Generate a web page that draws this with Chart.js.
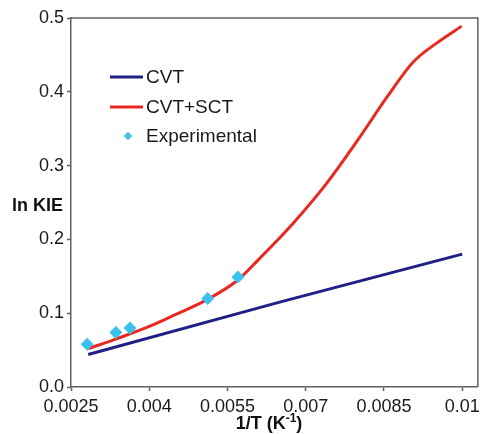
<!DOCTYPE html>
<html><head><meta charset="utf-8">
<script src="https://cdn.jsdelivr.net/npm/chart.js@4/dist/chart.umd.min.js"></script>
<style>html,body{margin:0;padding:0;background:#fff;}#wrap{width:485px;height:434px;}</style>
</head><body><div id="wrap"><canvas id="c" width="485" height="434"></canvas></div>
<script>
const xTickValues = [0.0025, 0.004, 0.0055, 0.007, 0.0085, 0.01];
const xTickLabels = ['0.0025', '0.004', '0.0055', '0.007', '0.0085', '0.01'];
const yTickValues = [0, 0.1, 0.2, 0.3, 0.4, 0.5];
const yTickLabels = ['0.0', '0.1', '0.2', '0.3', '0.4', '0.5'];

const cvtX = [0.00283, 0.0065, 0.01];
const cvtY = [0.044, 0.115, 0.180];

const sctX = [0.00283, 0.0034, 0.0040, 0.0045, 0.0051, 0.0057, 0.0061, 0.00676, 0.0074, 0.00804, 0.00856, 0.00907, 0.00951, 0.00999];
const sctY = [0.052, 0.066, 0.082, 0.098, 0.118, 0.145, 0.173, 0.222, 0.276, 0.339, 0.393, 0.441, 0.466, 0.489];

const expX = [0.00281, 0.00336, 0.00363, 0.00512, 0.0057];
const expY = [0.058, 0.074, 0.080, 0.120, 0.149];

const seriesNames = ['CVT', 'CVT+SCT', 'Experimental'];
const colors = ['#1f1f85', '#e8291f', '#3cc0ee'];
const axisColor = '#606060';

const pts = (xs, ys) => xs.map((x, i) => ({x: x, y: ys[i]}));

const overlay = {
  id: 'overlay',
  afterDraw(chart) {
    const ctx = chart.ctx;
    const a = chart.chartArea;
    ctx.save();
    ctx.strokeStyle = axisColor;
    ctx.lineWidth = 1.5;
    ctx.beginPath();
    ctx.moveTo(a.left, a.top);
    ctx.lineTo(a.right, a.top);
    ctx.lineTo(a.right, a.bottom);
    ctx.stroke();
    const lx0 = 110, lx1 = 143, tx = 146;
    const rows = [77, 107, 136];
    ctx.font = '19px "Liberation Sans", Arial, sans-serif';
    ctx.textBaseline = 'middle';
    ctx.textAlign = 'left';
    for (let i = 0; i < 3; i++) {
      const y = rows[i];
      if (i < 2) {
        ctx.strokeStyle = colors[i];
        ctx.lineWidth = 3;
        ctx.beginPath();
        ctx.moveTo(lx0, y);
        ctx.lineTo(lx1, y);
        ctx.stroke();
      } else {
        ctx.fillStyle = colors[2];
        Chart.helpers.drawPoint(ctx, {pointStyle: 'rectRot', radius: 4, borderWidth: 0}, 128, y);
        ctx.fill();
      }
      ctx.fillStyle = '#1a1a1a';
      ctx.fillText(seriesNames[i], tx, y + 1);
    }
    ctx.font = 'bold 18px "Liberation Sans", Arial, sans-serif';
    ctx.textAlign = 'right';
    ctx.fillStyle = '#111';
    ctx.fillText('ln KIE', 63, 206);
    const base = '1/T (K', sup = '-1', end = ')';
    const f1 = 'bold 18px "Liberation Sans", Arial, sans-serif';
    const f2 = 'bold 12px "Liberation Sans", Arial, sans-serif';
    ctx.font = f1; const w1 = ctx.measureText(base).width; const w3 = ctx.measureText(end).width;
    ctx.font = f2; const w2 = ctx.measureText(sup).width;
    const total = w1 + w2 + w3;
    let x = 269 - total / 2;
    const yb = 429;
    ctx.textAlign = 'left';
    ctx.textBaseline = 'alphabetic';
    ctx.font = f1; ctx.fillText(base, x, yb); x += w1;
    ctx.font = f2; ctx.fillText(sup, x, yb - 7); x += w2;
    ctx.font = f1; ctx.fillText(end, x, yb);
    ctx.restore();
  }
};

new Chart(document.getElementById('c'), {
  type: 'scatter',
  data: {
    datasets: [
      {label: seriesNames[2], data: pts(expX, expY), showLine: false, pointStyle: 'rectRot', pointRadius: 6.5, pointBackgroundColor: colors[2], pointBorderWidth: 0, order: 0},
      {label: seriesNames[0], data: pts(cvtX, cvtY), showLine: true, borderColor: colors[0], borderWidth: 3, pointRadius: 0, tension: 0, order: 1},
      {label: seriesNames[1], data: pts(sctX, sctY), showLine: true, borderColor: colors[1], borderWidth: 3, pointRadius: 0, cubicInterpolationMode: 'monotone', order: 2}
    ]
  },
  options: {
    responsive: false,
    animation: false,
    devicePixelRatio: 1,
    layout: {padding: {top: 18, right: 7, left: 0, bottom: 0}},
    plugins: {legend: {display: false}, tooltip: {enabled: false}},
    scales: {
      x: {
        type: 'linear', min: 0.0025, max: 0.0103,
        afterBuildTicks: s => { s.ticks = xTickValues.map(v => ({value: v})); },
        afterFit: s => { s.height = 47; },
        grid: {drawOnChartArea: false, drawTicks: true, tickLength: 4, color: axisColor, tickWidth: 1.5},
        border: {display: true, color: axisColor, width: 1.5},
        ticks: {
          autoSkip: false, maxRotation: 0, padding: 5, color: '#1a1a1a',
          font: {family: '"Liberation Sans", Arial, sans-serif', size: 18},
          callback: (v) => { const i = xTickValues.findIndex(t => Math.abs(t - v) < 1e-9); return i >= 0 ? xTickLabels[i] : ''; }
        }
      },
      y: {
        type: 'linear', min: 0, max: 0.5,
        afterBuildTicks: s => { s.ticks = yTickValues.map(v => ({value: v})); },
        afterFit: s => { s.width = 71; },
        grid: {drawOnChartArea: false, drawTicks: true, tickLength: 4, color: axisColor, tickWidth: 1.5},
        border: {display: true, color: axisColor, width: 1.5},
        ticks: {
          padding: 3, color: '#1a1a1a',
          font: {family: '"Liberation Sans", Arial, sans-serif', size: 18},
          callback: (v) => { const i = yTickValues.findIndex(t => Math.abs(t - v) < 1e-9); return i >= 0 ? yTickLabels[i] : ''; }
        }
      }
    }
  },
  plugins: [overlay]
});
</script>
</body></html>
